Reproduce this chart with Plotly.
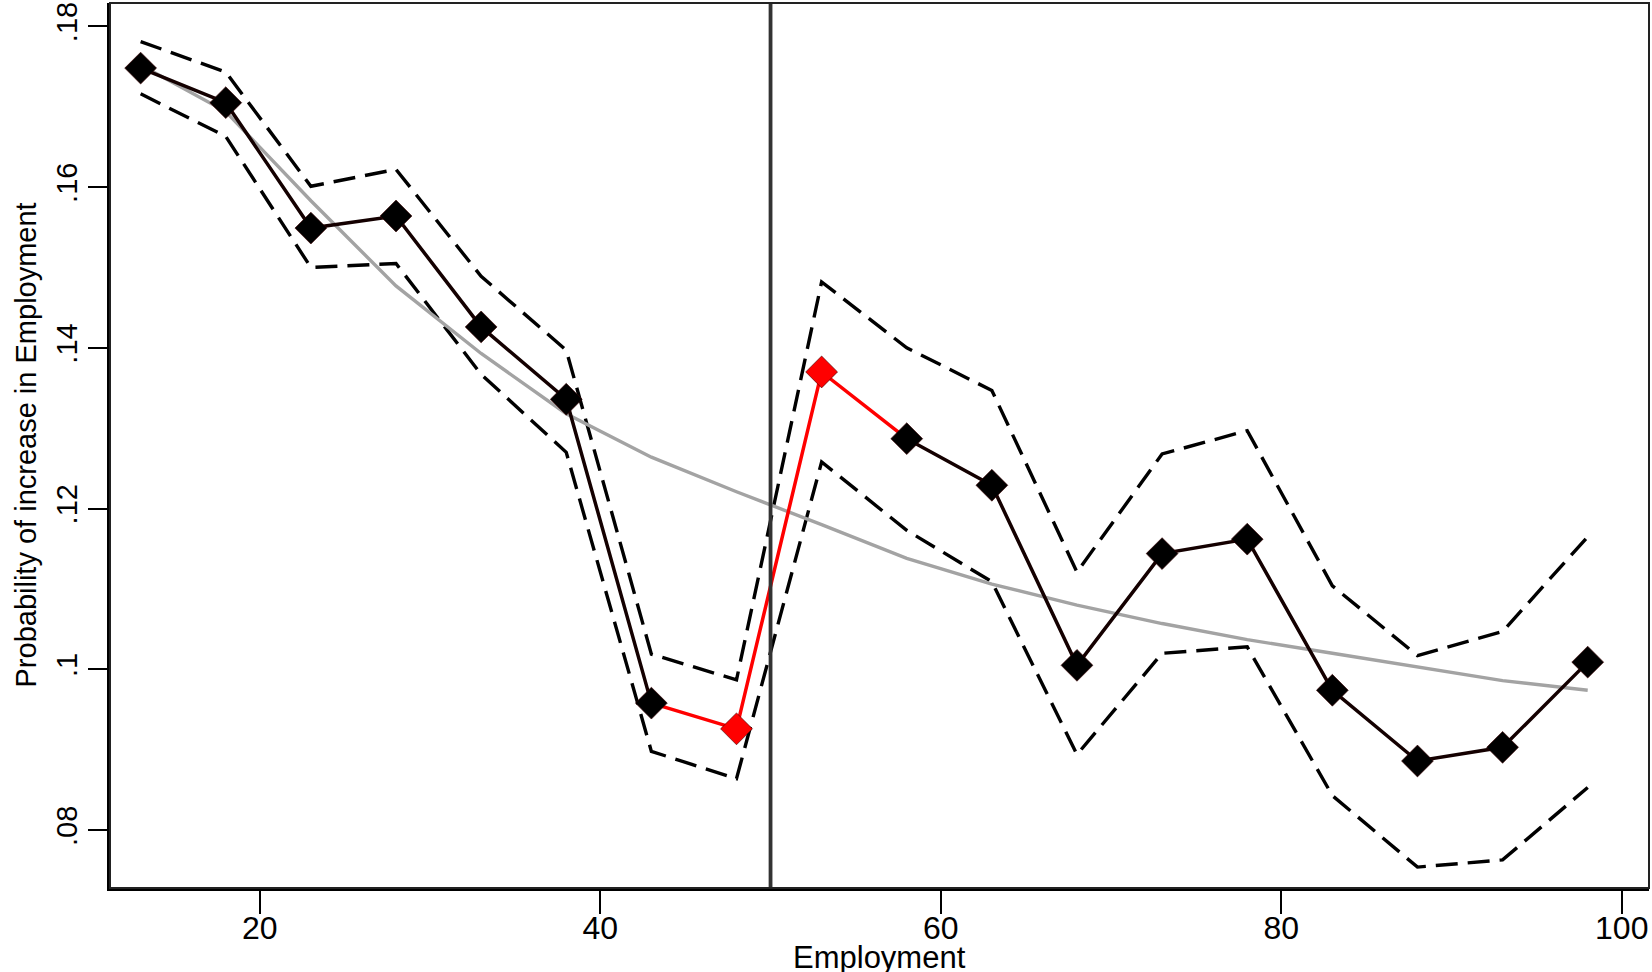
import plotly.graph_objects as go

# Employment bins (midpoints)
employment = [13, 18, 23, 28, 33, 38, 43, 48, 53, 58, 63, 68, 73, 78, 83, 88, 93, 98]

# Estimated probability of an employment increase, with 95% bounds
prob = [0.1748, 0.1705, 0.1549, 0.1564, 0.1426, 0.1336, 0.0958, 0.0926, 0.1370,
        0.1287, 0.1229, 0.1005, 0.1144, 0.1162, 0.0974, 0.0886, 0.0903, 0.1009]
upper = [0.1781, 0.1743, 0.1601, 0.1622, 0.1489, 0.1397, 0.1019, 0.0987, 0.1482,
         0.1400, 0.1347, 0.1121, 0.1268, 0.1297, 0.1104, 0.1017, 0.1047, 0.1165]
lower = [0.1716, 0.1663, 0.1500, 0.1505, 0.1367, 0.1270, 0.0898, 0.0864, 0.1258,
         0.1173, 0.1109, 0.0894, 0.1020, 0.1028, 0.0843, 0.0754, 0.0763, 0.0853]

# Smooth fitted curve
fitted = [0.1752, 0.1694, 0.1583, 0.1477, 0.1393, 0.1318, 0.1264, 0.1221, 0.1180,
          0.1138, 0.1106, 0.1080, 0.1057, 0.1037, 0.1020, 0.1003, 0.0986, 0.0974]

# Bins around the threshold highlighted in red
highlight = [48, 53]
threshold = 50

x_ticks = [20, 40, 60, 80, 100]
y_ticks = [0.08, 0.10, 0.12, 0.14, 0.16, 0.18]
y_tick_text = [".08", ".1", ".12", ".14", ".16", ".18"]

FONT = "Liberation Sans, Arial, sans-serif"
DARK = "#140000"
RED = "#ff0000"

fig = go.Figure()

# confidence bounds
for band in (upper, lower):
    fig.add_trace(go.Scatter(
        x=employment, y=band, mode="lines",
        line=dict(color="black", width=3.4, dash="22px,10px"),
        hoverinfo="skip", showlegend=False))

# fitted curve
fig.add_trace(go.Scatter(
    x=employment, y=fitted, mode="lines",
    line=dict(color="#a3a3a3", width=3.4), showlegend=False))

# connecting segments: red where either end touches the highlighted bins
i_red = [i for i, e in enumerate(employment) if e in highlight]
lo, hi = min(i_red) - 1, max(i_red) + 1
fig.add_trace(go.Scatter(
    x=employment[:lo + 1], y=prob[:lo + 1], mode="lines",
    line=dict(color=DARK, width=3.5), showlegend=False))
fig.add_trace(go.Scatter(
    x=employment[hi:], y=prob[hi:], mode="lines",
    line=dict(color=DARK, width=3.5), showlegend=False))
fig.add_trace(go.Scatter(
    x=employment[lo:hi + 1], y=prob[lo:hi + 1], mode="lines",
    line=dict(color=RED, width=3.5), showlegend=False))

# markers
colors = [RED if e in highlight else "black" for e in employment]
fig.add_trace(go.Scatter(
    x=employment, y=prob, mode="markers",
    marker=dict(symbol="diamond", size=24.5, color=colors,
                line=dict(color="#3a0000", width=0.6)),
    showlegend=False))

# threshold line
fig.add_shape(type="line", xref="x", yref="paper", x0=threshold, x1=threshold,
              y0=0, y1=1, line=dict(color="#333333", width=3.8))

# outer frame
fig.add_shape(type="rect", xref="paper", yref="paper", x0=0, x1=1, y0=0, y1=1,
              line=dict(color="#222222", width=2))

fig.update_layout(
    width=1652, height=972,
    margin=dict(l=110, r=3, t=3, b=84),
    paper_bgcolor="white", plot_bgcolor="white",
    font=dict(family=FONT, color="black"),
    xaxis=dict(
        range=[11.2, 101.6], tickvals=x_ticks, ticktext=[str(t) for t in x_ticks],
        ticks="outside", ticklen=23, tickwidth=1.8, tickcolor="black",
        tickfont=dict(size=32), ticklabelstandoff=-13, showgrid=False, zeroline=False,
        showline=True, linecolor="black", linewidth=2.8),
    yaxis=dict(
        range=[0.0728, 0.1829], tickvals=y_ticks, ticktext=y_tick_text,
        tickangle=-90, ticks="outside", ticklen=19, tickwidth=1.8, tickcolor="black",
        tickfont=dict(size=29), showgrid=False, zeroline=False,
        showline=True, linecolor="black", linewidth=2.8),
    annotations=[
        dict(text="Employment", xref="paper", yref="paper", x=0.5, y=0,
             xanchor="center", yanchor="middle", yshift=-69, showarrow=False,
             font=dict(size=31, family=FONT)),
        dict(text="Probability of increase in Employment", xref="paper", yref="paper",
             x=0, y=0.5, xanchor="center", yanchor="middle", xshift=-85,
             textangle=-90, showarrow=False, font=dict(size=29, family=FONT)),
    ],
)

fig.write_html("out.html")
